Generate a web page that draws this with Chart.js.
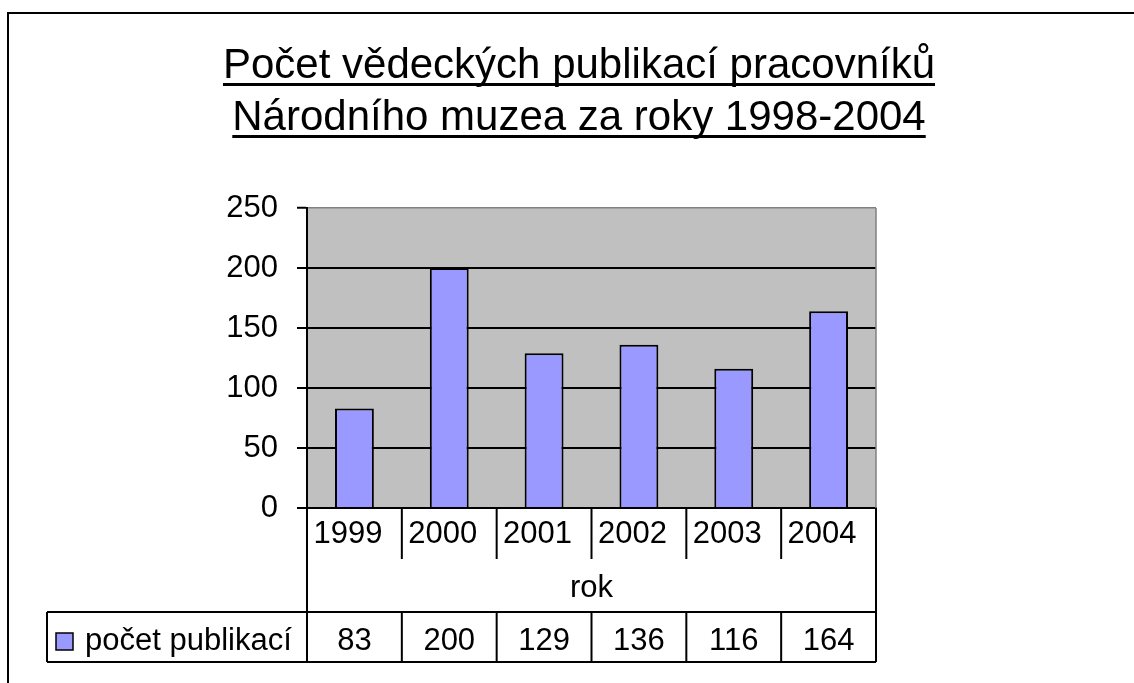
<!DOCTYPE html>
<html>
<head>
<meta charset="utf-8">
<script src="https://cdn.jsdelivr.net/npm/chart.js@4.4.0/dist/chart.umd.min.js"></script>
<style>
  html, body { margin: 0; padding: 0; background: #fff; }
  canvas { display: block; }
</style>
</head>
<body>
<canvas id="chart" width="1134" height="683"></canvas>
<script>
// data
const years = ['1999', '2000', '2001', '2002', '2003', '2004'];
const publikace = [83, 200, 129, 136, 116, 164];
const yTicks = [0, 50, 100, 150, 200, 250];
const seriesName = 'počet publikací';
const axisTitle = 'rok';
const titleLines = ['Počet vědeckých publikací pracovníků', 'Národního muzea za roky 1998-2004'];

const FONT = "'Liberation Sans', Arial, sans-serif";
const BAR = '#9999ff';

// Excel-like frame, title, grey plot area and data table
const excelLook = {
  id: 'excelLook',
  beforeDraw(chart) {
    const { ctx, chartArea: a } = chart;
    ctx.save();
    ctx.fillStyle = '#fff';
    ctx.fillRect(0, 0, chart.width, chart.height);
    ctx.fillStyle = '#c0c0c0';
    ctx.fillRect(a.left, a.top, a.right - a.left, a.bottom - a.top);
    ctx.strokeStyle = '#000';
    ctx.lineWidth = 2;
    ctx.beginPath();
    ctx.moveTo(8, chart.height);
    ctx.lineTo(8, 13);
    ctx.lineTo(chart.width, 13);
    ctx.stroke();
    ctx.restore();
  },
  afterDraw(chart) {
    const { ctx, chartArea: a } = chart;
    const x = chart.scales.x;
    const catW = (x.right - x.left) / years.length;
    const catRowBottom = a.bottom + 51;
    const dataTop = x.bottom;
    const dataBottom = dataTop + 50;
    const legendLeft = 47;

    ctx.save();
    // title, underlined
    ctx.fillStyle = '#000';
    ctx.font = '42px ' + FONT;
    ctx.textAlign = 'center';
    ctx.textBaseline = 'alphabetic';
    const cx = 579;
    [78, 130].forEach((base, i) => {
      ctx.fillText(titleLines[i], cx, base);
      const w = ctx.measureText(titleLines[i]).width;
      ctx.fillRect(cx - w / 2, base + 5, w, 3);
    });

    // right edge of plot area
    ctx.strokeStyle = '#808080';
    ctx.lineWidth = 1.5;
    ctx.beginPath();
    ctx.moveTo(x.right, a.top);
    ctx.lineTo(x.right, a.bottom);
    ctx.stroke();

    // data table lines
    ctx.strokeStyle = '#000';
    ctx.lineWidth = 2;
    ctx.beginPath();
    ctx.moveTo(legendLeft, dataTop); ctx.lineTo(x.right, dataTop);
    ctx.moveTo(legendLeft, dataBottom); ctx.lineTo(x.right, dataBottom);
    ctx.moveTo(legendLeft, dataTop); ctx.lineTo(legendLeft, dataBottom);
    ctx.moveTo(x.left, a.bottom); ctx.lineTo(x.left, dataBottom);
    ctx.moveTo(x.right, a.bottom); ctx.lineTo(x.right, dataBottom);
    for (let i = 1; i < years.length; i++) {
      const px = x.getPixelForValue(i) - catW / 2;
      ctx.moveTo(px, a.bottom); ctx.lineTo(px, catRowBottom);
      ctx.moveTo(px, dataTop); ctx.lineTo(px, dataBottom);
    }
    ctx.stroke();

    // legend key + series name
    ctx.fillStyle = BAR;
    ctx.fillRect(56, 633, 17, 17);
    ctx.lineWidth = 1.5;
    ctx.strokeRect(56, 633, 17, 17);
    ctx.fillStyle = '#000';
    ctx.font = '31px ' + FONT;
    ctx.textAlign = 'left';
    ctx.fillText(seriesName, 85, dataBottom - 12);

    // values
    ctx.textAlign = 'center';
    publikace.forEach((v, i) => {
      ctx.fillText(String(v), x.getPixelForValue(i), dataBottom - 12);
    });
    ctx.restore();
  }
};

new Chart(document.getElementById('chart').getContext('2d'), {
  type: 'bar',
  data: {
    labels: years,
    datasets: [{
      label: seriesName,
      data: publikace,
      backgroundColor: BAR,
      borderColor: '#000',
      borderWidth: 2,
      categoryPercentage: 1,
      barPercentage: 0.41
    }]
  },
  options: {
    responsive: false,
    animation: false,
    layout: { padding: { left: 47, right: 258, top: 208, bottom: 71 } },
    plugins: {
      legend: { display: false },
      title: { display: false },
      tooltip: { enabled: false }
    },
    scales: {
      y: {
        min: 0, max: 250,
        afterFit: s => { s.width = 260; },
        afterBuildTicks: s => { s.ticks = yTicks.map(v => ({ value: v })); },
        grid: {
          color: c => (c.tick && c.tick.value === 250) ? '#808080' : '#000',
          lineWidth: c => (c.tick && c.tick.value === 250) ? 1.5 : 2,
          tickColor: '#000', tickWidth: 2, tickLength: 10, drawTicks: true
        },
        border: { display: true, color: '#000', width: 2 },
        ticks: { font: { family: FONT, size: 31 }, color: '#000', padding: 19 }
      },
      x: {
        afterFit: s => { s.height = 104; },
        grid: { display: false },
        border: { display: true, color: '#000', width: 2 },
        ticks: {
          font: { family: FONT, size: 31 }, color: '#000',
          align: 'start', labelOffset: -41, padding: 0, maxRotation: 0, autoSkip: false
        },
        title: {
          display: true, text: axisTitle, color: '#000',
          font: { family: FONT, size: 31 }, padding: { top: 0, bottom: 5 }
        }
      }
    }
  },
  plugins: [excelLook]
});
</script>
</body>
</html>
